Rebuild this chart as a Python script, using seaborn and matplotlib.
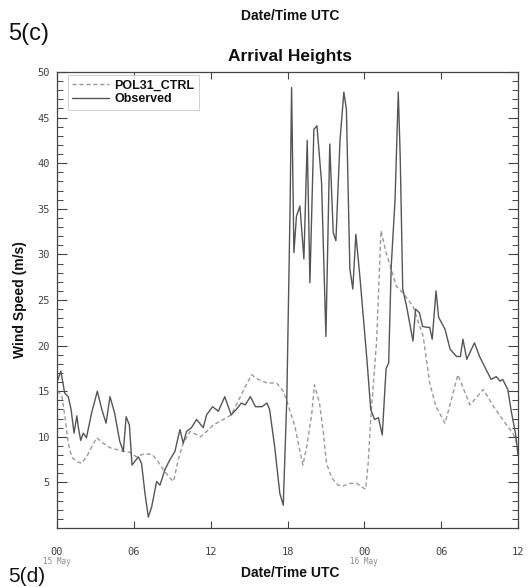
import matplotlib
matplotlib.use("Agg")
import matplotlib.pyplot as plt
import matplotlib.transforms as mtransforms
from matplotlib.ticker import MultipleLocator, FixedLocator, NullLocator
import pandas as pd
import seaborn as sns

# Observed wind speed at Arrival Heights (hours since 00 UTC 15 May, m/s)
obs_hours = [0.0, 0.3, 0.6, 0.88, 1.1, 1.33, 1.55, 1.66, 1.85, 2.05, 2.3, 2.7,
             3.15, 3.5, 3.83, 4.14, 4.5, 4.9, 5.18, 5.4, 5.65, 5.86, 6.35, 6.6,
             6.87, 7.13, 7.39, 7.78, 8.04, 8.43, 8.82, 9.21, 9.6, 9.86, 10.12,
             10.5, 10.9, 11.42, 11.68, 12.15, 12.6, 13.1, 13.6, 14.0, 14.4,
             14.7, 15.1, 15.5, 16.0, 16.4, 16.6, 17.0, 17.4, 17.67, 17.95,
             18.2, 18.32, 18.5, 18.7, 18.97, 19.28, 19.54, 19.75, 20.06, 20.3,
             20.66, 21.0, 21.3, 21.57, 21.78, 22.1, 22.4, 22.6, 22.87, 23.1,
             23.34, 23.65, 24.2, 24.5, 24.8, 25.1, 25.4, 25.7, 25.9, 26.1,
             26.4, 26.65, 26.8, 27.0, 27.3, 27.8, 28.0, 28.3, 28.55, 28.9,
             29.1, 29.3, 29.6, 29.8, 30.3, 30.7, 31.2, 31.5, 31.7, 32.0, 32.6,
             33.0, 33.5, 33.9, 34.3, 34.6, 34.8, 35.2, 35.5, 35.8, 36.0]
obs_speed = [16.0, 17.2, 14.8, 14.4, 13.0, 10.4, 12.3, 11.1, 9.6, 10.4, 9.9, 12.6,
             15.0, 13.0, 11.5, 14.4, 12.6, 9.5, 8.4, 12.2, 11.3, 6.9, 7.8, 7.1,
             3.8, 1.2, 2.3, 5.1, 4.7, 6.4, 7.5, 8.4, 10.8, 9.3, 10.6,
             11.0, 11.9, 11.0, 12.4, 13.3, 12.8, 14.4, 12.4, 13.0, 13.7,
             13.5, 14.4, 13.3, 13.3, 13.7, 13.0, 8.9, 3.8, 2.5, 14.4,
             35.0, 48.3, 30.2, 34.2, 35.3, 29.5, 42.5, 26.9, 43.7, 44.1,
             37.9, 21.0, 42.1, 32.4, 31.5, 42.5, 47.8, 45.9, 28.4, 26.2,
             32.2, 27.6, 18.5, 13.0, 11.9, 12.1, 10.2, 17.5, 18.1, 28.7,
             36.0, 47.8, 40.8, 26.2, 24.3, 20.5, 24.0, 23.6, 22.1, 22.0,
             22.0, 20.7, 26.0, 23.1, 21.8, 19.6, 18.8, 18.8, 20.7, 18.5, 20.3,
             18.8, 17.4, 16.3, 16.6, 16.1, 16.3, 15.2, 12.6, 10.4, 8.0]

# POL31_CTRL model run
ctrl_hours = [0.0, 0.37, 0.62, 0.88, 1.14, 1.5, 1.93, 2.31, 2.71, 3.1, 3.6, 4.14,
              4.66, 5.18, 5.7, 6.2, 6.74, 7.4, 7.78, 8.3, 8.8, 9.1, 9.47, 9.86,
              10.4, 11.2, 11.7, 12.2, 13.0, 13.6, 14.15, 14.7, 15.2, 15.7, 16.4,
              17.15, 17.67, 18.05, 18.6, 19.0, 19.2, 19.5, 19.9, 20.1, 20.5,
              20.8, 21.05, 21.45, 21.96, 22.35, 22.9, 23.4, 23.8, 24.1, 24.3,
              24.5, 24.95, 25.3, 25.7, 26.1, 26.5, 27.0, 27.8, 28.6, 29.1, 29.6,
              30.3, 30.8, 31.3, 32.25, 33.3, 34.1, 35.0, 35.6, 36.0]
ctrl_speed = [15.0, 14.6, 12.2, 9.3, 7.8, 7.3, 7.1, 7.8, 8.9, 9.9, 9.3, 8.8,
              8.6, 8.4, 8.3, 7.8, 8.1, 8.1, 7.5, 6.4, 5.5, 5.1, 7.5, 9.3,
              10.6, 10.0, 10.6, 11.3, 11.9, 12.4, 13.9, 15.5, 16.8, 16.3, 15.9,
              15.9, 15.0, 13.5, 11.0, 8.2, 6.9, 8.9, 12.6, 15.7, 13.7,
              10.4, 7.1, 5.5, 4.7, 4.6, 4.9, 4.9, 4.5, 4.25, 7.1,
              12.0, 20.3, 32.6, 30.2, 28.4, 26.5, 25.8, 24.3, 21.0, 15.9, 13.3,
              11.5, 14.1, 16.8, 13.5, 15.2, 13.3, 11.5, 10.4, 9.0]

x_ticks = [0, 6, 12, 18, 24, 30, 36]
x_tick_labels = ["00", "06", "12", "18", "00", "06", "12"]
date_positions = [0, 24]
date_labels = ["15 May", "16 May"]
y_ticks = [5, 10, 15, 20, 25, 30, 35, 40, 45, 50]

sns.set_style("ticks")
plt.rcParams["font.family"] = ["Liberation Sans", "DejaVu Sans"]

W, H = 530, 587
fig = plt.figure(figsize=(W / 100, H / 100), dpi=100)
left, right, top, bottom = 57, 518, 72, 528
ax = fig.add_axes([left / W, 1 - bottom / H, (right - left) / W, (bottom - top) / H])

sns.lineplot(x=ctrl_hours, y=ctrl_speed, ax=ax, color="#9a9a9a", lw=1.0,
             linestyle=(0, (3, 2)), label="POL31_CTRL", sort=False, estimator=None)
sns.lineplot(x=obs_hours, y=obs_speed, ax=ax, color="#555555", lw=1.0,
             label="Observed", sort=False, estimator=None)

ax.set_xlim(0, 36)
ax.set_ylim(0, 50)
ax.xaxis.set_major_locator(FixedLocator(x_ticks))
ax.set_xticklabels(x_tick_labels)
ax.xaxis.set_minor_locator(NullLocator())
ax.yaxis.set_major_locator(FixedLocator(y_ticks))
ax.set_yticklabels([str(v) for v in y_ticks])
ax.yaxis.set_minor_locator(MultipleLocator(1))

for sp in ax.spines.values():
    sp.set_visible(True)
    sp.set_color("#444444")
    sp.set_linewidth(0.9)

ax.tick_params(axis="x", which="major", direction="in", length=5, width=0.8,
               color="#444444", top=True, bottom=True, pad=14,
               labelsize=7.5, labelcolor="#444444")
ax.tick_params(axis="y", which="major", direction="in", length=7, width=0.8,
               color="#444444", left=True, right=True, pad=5,
               labelsize=7.5, labelcolor="#444444")
ax.tick_params(axis="y", which="minor", direction="in", length=4, width=0.7,
               color="#444444", left=True, right=True)
for lab in ax.get_xticklabels() + ax.get_yticklabels():
    lab.set_fontfamily("DejaVu Sans Mono")

# day labels under the 00 UTC ticks
trans = mtransforms.blended_transform_factory(ax.transData, ax.transAxes)
for pos, txt in zip(date_positions, date_labels):
    ax.text(pos, -(561 - bottom) / (bottom - top), txt, transform=trans,
            ha="center", va="center", fontsize=5.5, color="#8a8a8a",
            family="DejaVu Sans Mono")

ax.set_xlabel("")
ax.set_ylabel("Wind Speed (m/s)", fontsize=10, fontweight="bold", color="#111111")
ax.yaxis.set_label_coords(-(left - 27) / (right - left), 0.5)

leg = ax.legend(loc="upper left",
                bbox_to_anchor=((68 - left) / (right - left), 1 - (75 - top) / (bottom - top)),
                borderaxespad=0, frameon=True, fancybox=False, handlelength=2.9,
                handletextpad=0.45, borderpad=0.35, labelspacing=0.15,
                prop={"weight": "bold", "size": 9})
leg.get_frame().set_edgecolor("#c4c4c4")
leg.get_frame().set_linewidth(0.7)
for t in leg.get_texts():
    t.set_color("#111111")

fig.text(290 / W, 1 - 16 / H, "Date/Time UTC", ha="center", va="center",
         fontsize=10, fontweight="bold", color="#111111")
fig.text(8 / W, 1 - 34 / H, "5(c)", ha="left", va="center", fontsize=17,
         color="#111111")
fig.text(290 / W, 1 - 57 / H, "Arrival Heights", ha="center", va="center",
         fontsize=12.5, fontweight="bold", color="#111111")
fig.text(290 / W, 1 - 573 / H, "Date/Time UTC", ha="center", va="center",
         fontsize=10, fontweight="bold", color="#111111")
fig.text(8 / W, 1 - 586 / H, "5(d)", ha="left", va="bottom", fontsize=15,
         color="#111111")

fig.savefig("out.png", dpi=100, facecolor="white")
